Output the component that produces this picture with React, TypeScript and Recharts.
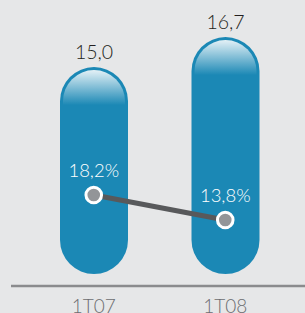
import React from 'react';
import { ComposedChart, Bar, Line, XAxis, YAxis, LabelList } from 'recharts';

const quarters = ['1T07', '1T08'];
const totals = [15.0, 16.7];
const rates = [18.2, 13.8];

const data = quarters.map((q, i) => ({ name: q, total: totals[i], rate: rates[i] }));

const fmt = (v: number, d = 1) => v.toFixed(d).replace('.', ',');

// pill-shaped bar, rounded on both ends, ending a little above the axis line
function PillBar(props: any) {
  const { x, y, width, height } = props;
  const bottom = y + height - 12;
  const r = width / 2;
  const cx = x + r;
  const ir = r - 3;
  const d = `M${x},${y + r} A${r},${r} 0 0 1 ${x + width},${y + r} L${x + width},${bottom - r} A${r},${r} 0 0 1 ${x},${bottom - r} Z`;
  const hl = `M${cx - ir},${y + r} A${ir},${ir} 0 0 1 ${cx + ir},${y + r} L${cx + ir},${y + r + 4} L${cx - ir},${y + r + 4} Z`;
  return (
    <g>
      <path d={d} fill="#1b88b5" />
      <path d={hl} fill="url(#shine)" />
    </g>
  );
}

function Dot(props: any) {
  const { cx, cy } = props;
  return <circle cx={cx} cy={cy} r={7.8} fill="#939598" stroke="#ffffff" strokeWidth={3} />;
}

export default function App() {
  return (
    <div style={{ position: 'fixed', left: 0, top: 0, width: 305, height: 313, background: '#e6e7e8' }}>
      <ComposedChart
        width={305}
        height={313}
        data={data}
        margin={{ top: 0, right: 0, bottom: 0, left: 11 }}
        barCategoryGap="24%"
      >
        <defs>
          <linearGradient id="shine" x1="0" y1="0" x2="0" y2="1">
            <stop offset="0%" stopColor="#ffffff" stopOpacity={0.88} />
            <stop offset="100%" stopColor="#ffffff" stopOpacity={0} />
          </linearGradient>
        </defs>
        <XAxis
          dataKey="name"
          height={27}
          axisLine={{ stroke: '#8a8b8d', strokeWidth: 2.5 }}
          tickLine={false}
          padding={{ left: 17, right: 14 }}
          tick={{ fill: '#6d6e71', fontSize: 19, fontFamily: 'Lato, sans-serif', fontWeight: 300 }}
          tickMargin={8}
        />
        <YAxis yAxisId="l" hide domain={[2.6, 18.8]} />
        <YAxis yAxisId="r" hide orientation="right" domain={[2.2, 52.5]} />
        <Bar yAxisId="l" dataKey="total" barSize={68} shape={<PillBar />} isAnimationActive={false}>
          <LabelList
            dataKey="total"
            position="top"
            offset={8}
            formatter={(v: any) => fmt(Number(v))}
            style={{ fill: '#231f20', fontSize: 19.5, fontFamily: 'Lato, sans-serif', fontWeight: 300 }}
          />
        </Bar>
        <Line
          yAxisId="r"
          dataKey="rate"
          stroke="#58595b"
          strokeWidth={5}
          dot={<Dot />}
          activeDot={false}
          isAnimationActive={false}
        >
          <LabelList
            dataKey="rate"
            position="top"
            offset={18}
            formatter={(v: any) => fmt(Number(v)) + '%'}
            style={{ fill: '#ffffff', fontSize: 18.5, fontFamily: 'Lato, sans-serif', fontWeight: 300 }}
          />
        </Line>
      </ComposedChart>
    </div>
  );
}
